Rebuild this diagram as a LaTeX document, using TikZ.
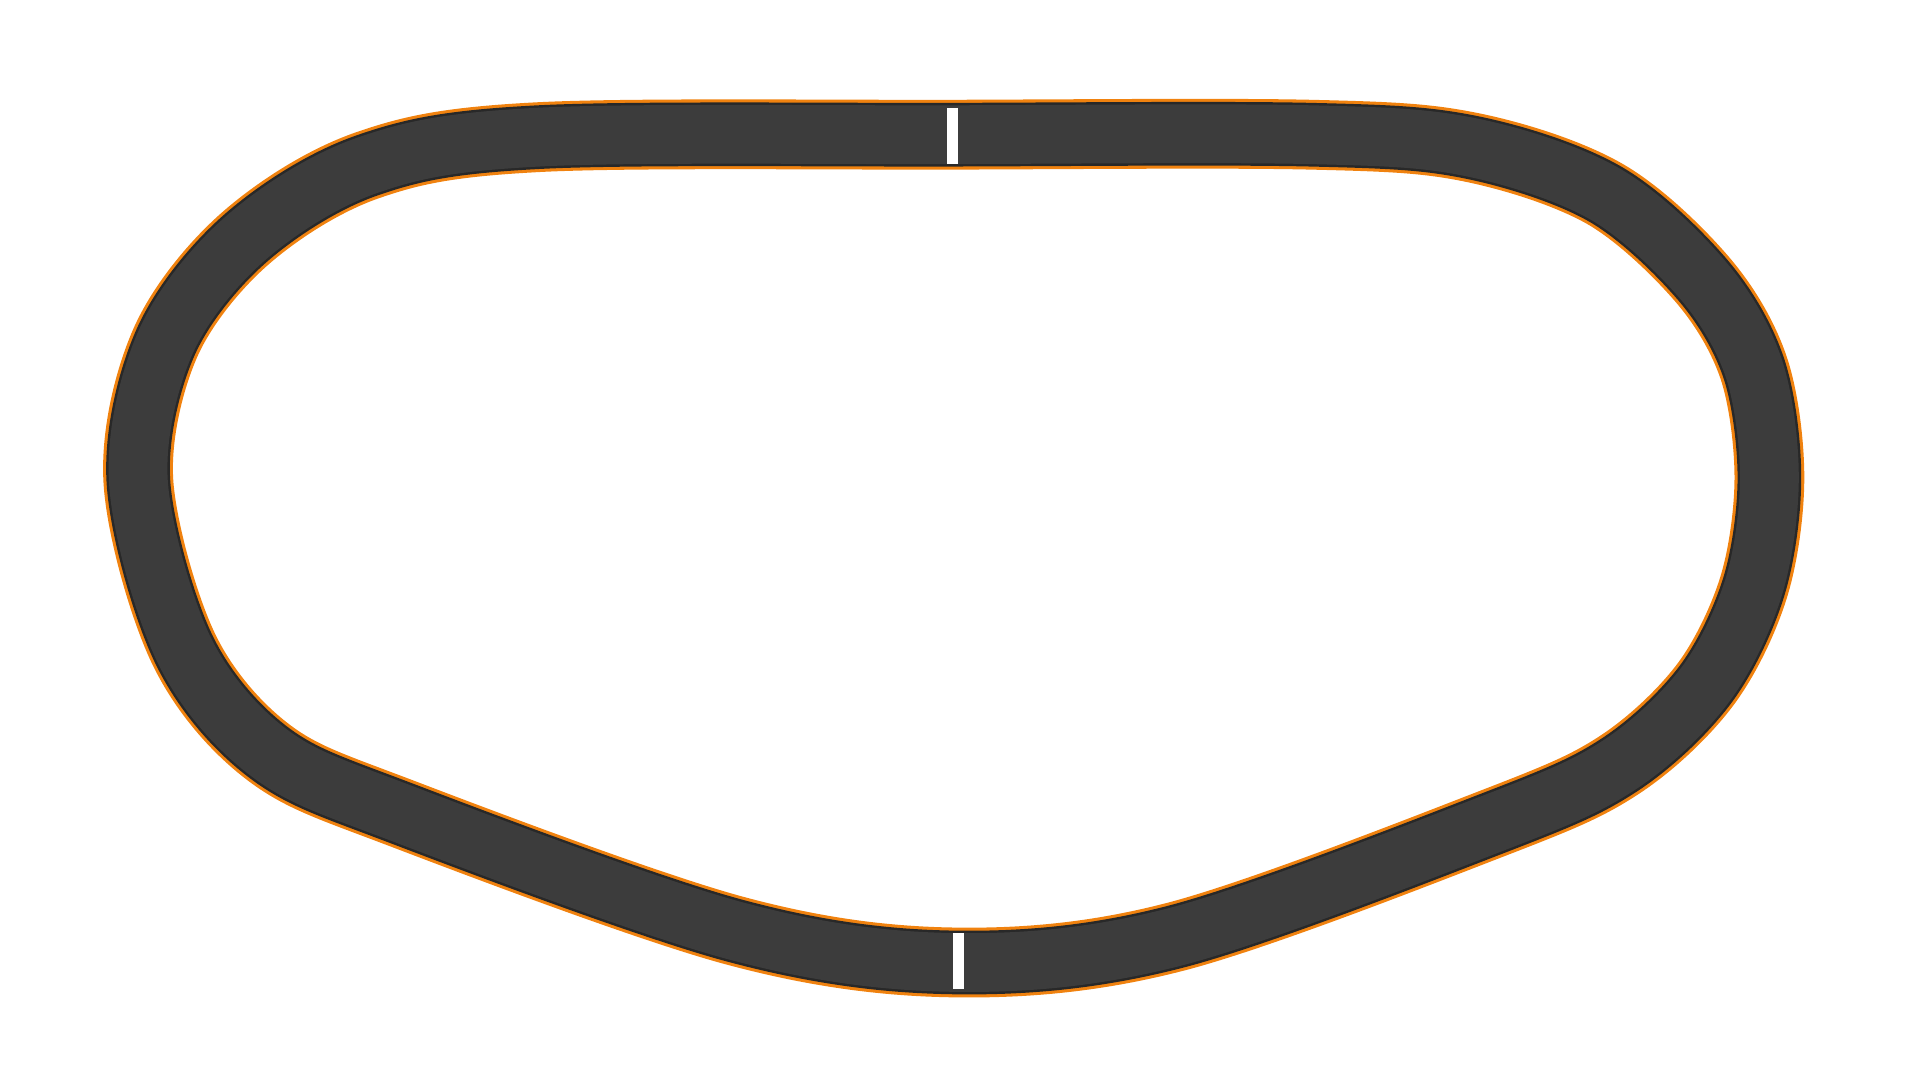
\documentclass[tikz,border=0pt]{standalone}
\usetikzlibrary{calc}
\begin{document}
\begin{tikzpicture}[x=1pt,y=-1pt]
\definecolor{trk}{HTML}{3C3C3C}
\definecolor{edg}{HTML}{282828}
\definecolor{org}{HTML}{F0820F}
\useasboundingbox (0,0) rectangle (1568,882);
\def\track{plot[smooth cycle,tension=0.55] coordinates {(780,110) (1070,110) (1200,120) (1310,158) (1390,228) (1432,300) (1445,390) (1432,480) (1392,560) (1322,625) (1220,672) (960,765) (780,786) (600,760) (330,665) (220,615) (150,530) (113,393) (135,280) (200,195) (300,135) (440,112)}}
\draw[org,line width=57,line join=round] \track;
\draw[edg,line width=52,line join=round] \track;
\draw[trk,line width=48,line join=round] \track;
\coordinate (s1) at (778,88); \coordinate (e1) at (778,134);
\coordinate (s2) at (783,762); \coordinate (e2) at (783,808);
\draw[white,line width=9] (s1) -- (e1);
\draw[white,line width=9] (s2) -- (e2);
\end{tikzpicture}
\end{document}
